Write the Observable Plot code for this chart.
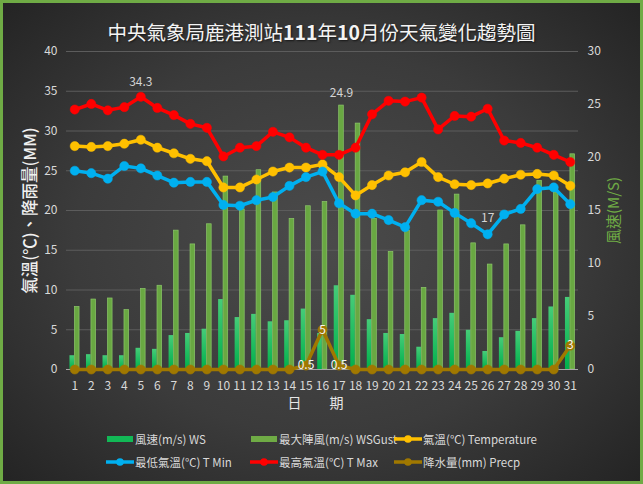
<!DOCTYPE html>
<html>
<head>
<meta charset="utf-8">
<script src="https://cdn.jsdelivr.net/npm/d3@7"></script>
<script src="https://cdn.jsdelivr.net/npm/@observablehq/plot@0.6"></script>
<style>
  html, body { margin: 0; padding: 0; background: #2a2a2a; }
  #wrap {
    position: relative; width: 643px; height: 484px; overflow: hidden;
    background: radial-gradient(ellipse 70% 72% at 50% 50%, #4b4b4b 0%, #3b3b3b 55%, #232323 100%);
    font-family: "Noto Sans CJK TC", "Noto Sans", sans-serif;
  }
  #title {
    position: absolute; left: 0; top: 20px; width: 643px; height: 24px; line-height: 24px;
    text-align: center; color: #f4f4f4; font-size: 19.5px;
    text-shadow: 1px 1px 2px rgba(0,0,0,0.6);
  }
  #title b { font-weight: 700; }
  #chart { position: absolute; left: 0; top: 44px; }
  .item {
    position: absolute; height: 16px; display: flex; align-items: center;
    color: #d9d9d9; font-size: 11.5px; white-space: nowrap;
  }
  .item svg { margin-right: 1px; }
  #frame {
    position: absolute; left: 0; top: 0; width: 643px; height: 484px;
    box-sizing: border-box; border: 3px solid #6fab45; pointer-events: none;
  }
</style>
</head>
<body>
<div id="wrap">
  <div id="title">中央氣象局鹿港測站<b>111</b>年<b>10</b>月份天氣變化趨勢圖</div>
  <div id="chart"></div>
  <div id="legend"></div>
  <div id="frame"></div>
</div>
<script>
const days = [1,2,3,4,5,6,7,8,9,10,11,12,13,14,15,16,17,18,19,20,21,22,23,24,25,26,27,28,29,30,31];
const ws = [1.3,1.4,1.3,1.3,2.0,1.9,3.2,3.4,3.8,6.6,4.9,5.2,4.5,4.6,5.7,3.4,7.9,7.0,4.7,3.4,3.3,2.1,4.8,5.3,3.7,1.7,3.0,3.6,4.8,5.9,6.8];
const gust = [5.9,6.6,6.7,5.6,7.6,7.9,13.1,11.8,13.7,18.2,15.1,18.8,16.7,14.2,15.4,15.8,24.9,23.2,14.2,11.1,13.1,7.7,15.0,16.5,11.9,9.9,11.8,13.6,17.8,16.7,20.3];
const temp = [28.1,28.0,28.1,28.4,28.9,27.9,27.2,26.5,26.2,22.9,22.9,23.9,24.9,25.4,25.4,25.8,24.2,21.9,23.2,24.4,24.8,26.1,24.2,23.3,23.2,23.4,24.0,24.5,24.6,24.4,23.1];
const tMin = [25.0,24.7,24.0,25.6,25.3,24.4,23.5,23.6,23.6,20.7,20.6,21.3,21.7,23.1,24.2,24.9,20.9,19.6,19.6,18.8,17.9,21.3,21.1,19.7,18.4,17.0,19.5,20.2,22.7,22.9,20.8];
const tMax = [32.7,33.4,32.6,33.0,34.3,32.9,32.0,30.9,30.4,26.8,27.9,28.1,29.9,29.2,27.9,27.0,27.0,27.9,32.1,33.8,33.7,34.2,30.2,31.9,31.8,32.8,28.8,28.5,27.9,27.0,26.1];
const precip = [0,0,0,0,0,0,0,0,0,0,0,0,0,0,0.5,5,0.5,0,0,0,0,0,0,0,0,0,0,0,0,0,3];

const leftTicks = [0,5,10,15,20,25,30,35,40];
const rightTicks = [0,5,10,15,20,25,30];
const leftTitle = "氣溫(℃)、降雨量(MM)";
const rightTitle = "風速(M/S)";
const xTitle = "日　　期";

const legendItems = [
  {label: "風速(m/s) WS", kind: "bar", color: "#12b856", col: 0, row: 0},
  {label: "最大陣風(m/s) WSGust", kind: "bar", color: "#6fab45", col: 1, row: 0},
  {label: "氣溫(℃) Temperature", kind: "line", color: "#ffc000", col: 2, row: 0},
  {label: "最低氣溫(℃) T Min", kind: "line", color: "#00b0f0", col: 0, row: 1},
  {label: "最高氣溫(℃) T Max", kind: "line", color: "#ff0000", col: 1, row: 1},
  {label: "降水量(mm) Precp", kind: "line", color: "#a07800", col: 2, row: 1}
];

const k = 40 / 30; // wind (right axis) -> left axis units
const rows = days.map((d, i) => ({day: d, ws: ws[i], gust: gust[i], temp: temp[i], tMin: tMin[i], tMax: tMax[i], precip: precip[i]}));

const lineMarks = (key, color) => [
  Plot.line(rows, {x: "day", y: key, stroke: color, strokeWidth: 3.5, strokeLinejoin: "round"}),
  Plot.dot(rows, {x: "day", y: key, r: 4.6, fill: color, stroke: color, strokeWidth: 0.5})
];

const chart = Plot.plot({
  width: 643,
  height: 376,
  marginLeft: 66,
  marginRight: 65,
  marginTop: 7,
  marginBottom: 51,
  x: {domain: [0.5, 31.5]},
  y: {domain: [0, 40]},
  style: {background: "transparent", color: "#d9d9d9", fontSize: "12px", fontFamily: "'Noto Sans CJK TC', 'Noto Sans', sans-serif", overflow: "visible"},
  marks: [
    Plot.gridY(leftTicks, {stroke: "#5c5c5c", strokeOpacity: 1}),
    Plot.axisY(leftTicks, {tickSize: 0, tickPadding: 9, label: null}),
    Plot.axisY(rightTicks.map(v => v * k), {anchor: "right", tickSize: 0, tickPadding: 9, label: null, tickFormat: v => String(Math.round(v / k))}),
    Plot.axisX(days, {tickSize: 0, tickPadding: 12, label: null}),
    Plot.rect(rows, {x1: d => d.day - 0.29, x2: d => d.day - 0.01, y1: () => 0, y2: d => d.ws * k, fill: "url(#wsGrad)"}),
    Plot.rect(rows, {x1: d => d.day + 0.01, x2: d => d.day + 0.29, y1: () => 0, y2: d => d.gust * k, fill: "#69a842", stroke: "#8cc66a", strokeWidth: 0.7}),
    Plot.ruleY([0], {stroke: "#a6a6a6", strokeWidth: 1}),
    ...lineMarks("temp", "#ffc000"),
    ...lineMarks("tMin", "#00b0f0"),
    ...lineMarks("tMax", "#ff0000"),
    ...lineMarks("precip", "#a07800"),
    Plot.text(rows.filter(d => d.tMax === d3.max(tMax)), {x: "day", y: "tMax", text: d => d.tMax.toFixed(1), dy: -15, fill: "#d4d4d4", fontSize: 12}),
    Plot.text(rows.filter(d => d.gust === d3.max(gust)), {x: d => d.day + 0.15, y: d => d.gust * k, text: d => d.gust.toFixed(1), dy: -12, fill: "#d4d4d4", fontSize: 12}),
    Plot.text(rows.filter(d => d.tMin === d3.min(tMin)), {x: "day", y: "tMin", text: d => String(d.tMin), dy: -16, fill: "#d4d4d4", fontSize: 12}),
    Plot.text(rows.filter(d => d.precip > 0), {x: "day", y: "precip", text: d => String(d.precip), fill: "#f4f4f4", fontSize: 12}),
    Plot.text([leftTitle], {frameAnchor: "left", textAnchor: "middle", dx: -36, rotate: -90, fontSize: 16.5, fontWeight: 500, fill: "#f0f0f0"}),
    Plot.text([rightTitle], {frameAnchor: "right", textAnchor: "middle", dx: 36, rotate: -90, fontSize: 15, fill: "#6fab45"}),
    Plot.text([xTitle], {frameAnchor: "bottom", dy: 38, dx: -7, fontSize: 14, fill: "#e6e6e6"})
  ]
});

// gradient definition for the wind-speed bars
const defs = d3.select(chart).insert("defs", ":first-child");
const grad = defs.append("linearGradient").attr("id", "wsGrad").attr("x1", 0).attr("x2", 0).attr("y1", 0).attr("y2", 1);
grad.append("stop").attr("offset", "0%").attr("stop-color", "#46cc78");
grad.append("stop").attr("offset", "100%").attr("stop-color", "#00b04c");

document.getElementById("chart").appendChild(chart);

// legend
const colX = [106, 250, 394];
const rowY = [439, 462];
const legend = document.getElementById("legend");
for (const it of legendItems) {
  const div = document.createElement("div");
  div.className = "item";
  div.style.left = colX[it.col] + "px";
  div.style.top = (rowY[it.row] - 8) + "px";
  const sw = it.kind === "bar"
    ? `<svg width="28" height="16"><rect x="1" y="5" width="26" height="6" fill="${it.color}"/></svg>`
    : `<svg width="28" height="16"><line x1="0" y1="8" x2="28" y2="8" stroke="${it.color}" stroke-width="3.5"/><circle cx="14" cy="8" r="3.8" fill="${it.color}"/></svg>`;
  div.innerHTML = sw + `<span>${it.label}</span>`;
  legend.appendChild(div);
}
</script>
</body>
</html>
